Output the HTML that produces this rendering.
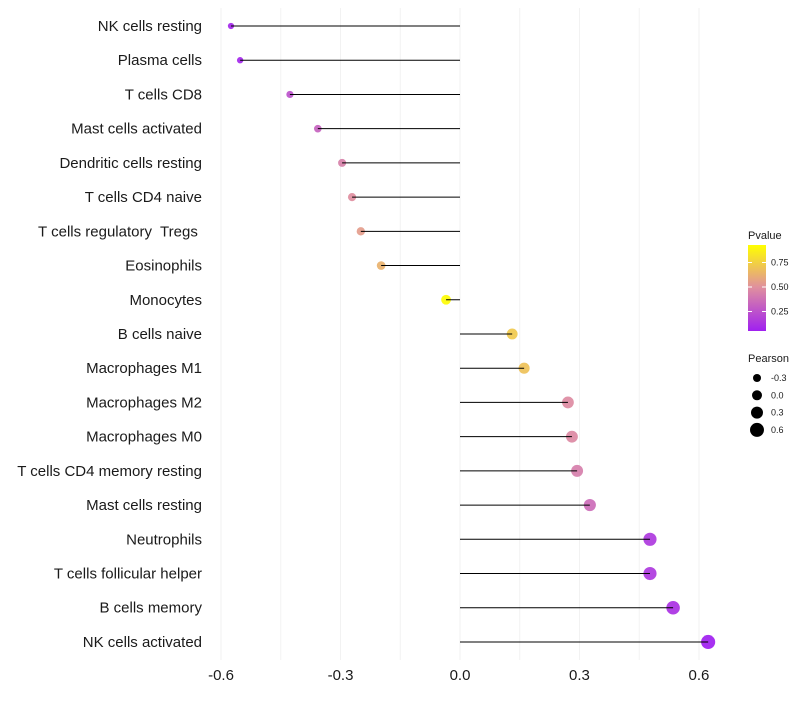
<!DOCTYPE html>
<html><head><meta charset="utf-8"><style>body{margin:0;background:#fff}svg{font-family:"Liberation Sans",sans-serif}</style></head>
<body>
<svg id="chart" width="800" height="700"></svg>
<script>
const categories=["NK cells resting","Plasma cells","T cells CD8","Mast cells activated","Dendritic cells resting","T cells CD4 naive","T cells regulatory  Tregs ","Eosinophils","Monocytes","B cells naive","Macrophages M1","Macrophages M2","Macrophages M0","T cells CD4 memory resting","Mast cells resting","Neutrophils","T cells follicular helper","B cells memory","NK cells activated"];
const pearson=[-0.575,-0.552,-0.427,-0.357,-0.296,-0.271,-0.249,-0.198,-0.035,0.131,0.161,0.271,0.281,0.294,0.326,0.477,0.477,0.535,0.623];
const pvalues=[0.08,0.08,0.25,0.32,0.44,0.49,0.55,0.63,0.92,0.72,0.69,0.48,0.47,0.43,0.36,0.15,0.15,0.12,0.05];
const xTicks=[-0.6,-0.3,0.0,0.3,0.6];
const xTickLabels=["-0.6","-0.3","0.0","0.3","0.6"];
const legendPvals=[0.75,0.5,0.25];
const legendSizes=[-0.3,0.0,0.3,0.6];
const NS="http://www.w3.org/2000/svg";
const svg=document.getElementById('chart');
const x=v=>460+v*398.3;
const y=i=>26+i*34.22;
const r=v=>Math.max(2,5+v*3.3);
function hex(h){return [1,3,5].map(i=>parseInt(h.substr(i,2),16));}
const stops=[[0.05,hex("#a020f0")],[0.5,hex("#e0909e")],[0.93,hex("#ffff00")]];
function col(p){if(p<=stops[0][0])return "rgb("+stops[0][1]+")";for(let k=0;k<2;k++){const a=stops[k],b=stops[k+1];if(p<=b[0]){const t=(p-a[0])/(b[0]-a[0]);return "rgb("+a[1].map((c,j)=>Math.round(c+(b[1][j]-c)*t))+")";}}return "rgb("+stops[2][1]+")";}
function el(t,a,txt){const e=document.createElementNS(NS,t);for(const k in a)e.setAttribute(k,a[k]);if(txt!=null)e.textContent=txt;svg.appendChild(e);return e;}
for(let v=-0.6;v<=0.61;v+=0.15){const g=el('line',{x1:x(v),x2:x(v),y1:8,y2:660,stroke:'#f2f2f2','stroke-width':1});

}
xTicks.forEach((v,i)=>{const t=el('text',{x:x(v),y:680,'text-anchor':'middle','font-size':15,fill:'#1a1a1a'},xTickLabels[i]);

});
categories.forEach((c,i)=>{
const t=el('text',{x:202,y:y(i)+5,'text-anchor':'end','font-size':15,fill:'#1a1a1a'},c);
t.setAttribute('xml:space','preserve');
t.style.whiteSpace='pre';


const d=el('circle',{cx:x(pearson[i]),cy:y(i),r:r(pearson[i]),fill:col(pvalues[i]),'fill-opacity':0.92});


const l=el('line',{x1:x(0),x2:x(pearson[i]),y1:y(i),y2:y(i),stroke:'#000','stroke-width':1});


});
const lt=el('text',{x:748,y:239,'font-size':11,fill:'#1a1a1a'},'Pvalue');


const defs=el('defs',{});const lg=document.createElementNS(NS,'linearGradient');lg.setAttribute('id','g');lg.setAttribute('x1',0);lg.setAttribute('y1',1);lg.setAttribute('x2',0);lg.setAttribute('y2',0);defs.appendChild(lg);
[["0%","#a020f0"],["51%","#e0909e"],["100%","#ffff00"]].forEach(s=>{const st=document.createElementNS(NS,'stop');st.setAttribute('offset',s[0]);st.setAttribute('stop-color',s[1]);lg.appendChild(st);});
const cb=el('rect',{x:748,y:245,width:18,height:86,fill:'url(#g)'});


legendPvals.forEach(p=>{const yy=287-(p-0.5)*98;
el('line',{x1:748,x2:752,y1:yy,y2:yy,stroke:'#fff','stroke-width':1});el('line',{x1:762,x2:766,y1:yy,y2:yy,stroke:'#fff','stroke-width':1});
const t=el('text',{x:771,y:yy+3,'font-size':9,fill:'#1a1a1a'},p.toFixed(2));

});
const pt=el('text',{x:748,y:362,'font-size':11,fill:'#1a1a1a'},'Pearson');


legendSizes.forEach((v,i)=>{const yy=378+i*17.3;
const c=el('circle',{cx:757,cy:yy,r:r(v),fill:'#000'});


const t=el('text',{x:771,y:yy+3,'font-size':9,fill:'#1a1a1a'},v.toFixed(1));

});
</script>
</body></html>
